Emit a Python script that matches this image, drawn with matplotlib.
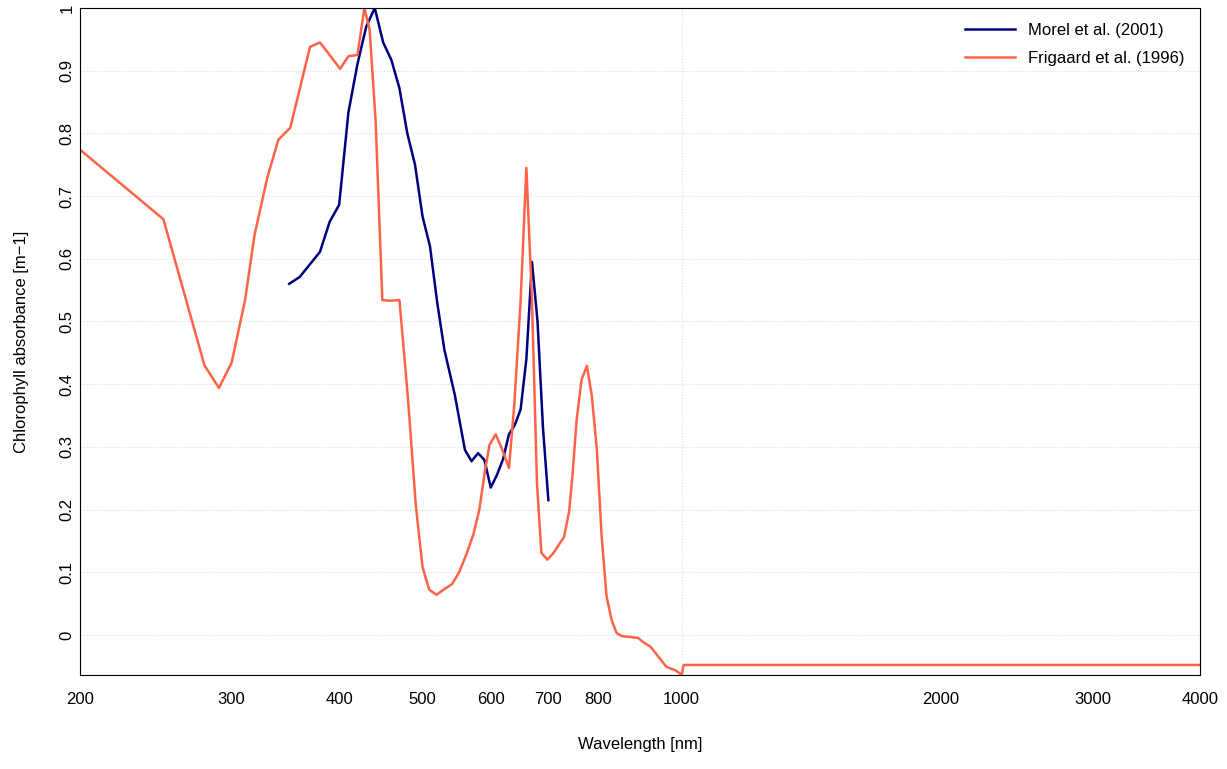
import matplotlib
matplotlib.use("Agg")
import matplotlib.pyplot as plt
from matplotlib.ticker import FixedLocator, NullLocator

fr_w = [200,250,279,290,300,311,319,330,340,351,370,380,390,401,410,420,428,434,441,449,458,470,481,491,500,509,519,530,541,551,562,573,582,591,598,608,619,630,639,650,660,670,679,687,698,710,720,730,740,747,755,765,776,786,797,807,818,829,840,852,867,890,901,920,936,960,985,1000,1005,1500,2000,3000,4000]
fr_a = [0.774,0.663,0.43,0.394,0.434,0.534,0.638,0.729,0.79,0.809,0.938,0.945,0.925,0.903,0.923,0.925,1.0,0.965,0.82,0.534,0.533,0.534,0.375,0.207,0.108,0.072,0.064,0.073,0.081,0.099,0.128,0.161,0.2,0.263,0.303,0.32,0.295,0.266,0.367,0.534,0.745,0.534,0.242,0.131,0.12,0.131,0.144,0.156,0.197,0.258,0.343,0.407,0.429,0.383,0.295,0.159,0.061,0.024,0.003,-0.002,-0.003,-0.005,-0.011,-0.019,-0.032,-0.051,-0.057,-0.064,-0.048,-0.048,-0.048,-0.048,-0.048]
mo_w = [350,360,380,390,400,410,420,430,440,450,460,470,480,490,500,510,520,530,545,560,570,580,590,600,610,620,630,640,650,660,670,680,690,700]
mo_a = [0.56,0.571,0.611,0.659,0.686,0.833,0.91,0.97,1.0,0.945,0.917,0.872,0.8,0.75,0.667,0.62,0.53,0.455,0.383,0.295,0.277,0.29,0.279,0.235,0.255,0.28,0.32,0.335,0.36,0.44,0.595,0.5,0.33,0.215]
xticks = [200,300,400,500,600,700,800,1000,2000,3000,4000]
yticks = [0,0.1,0.2,0.3,0.4,0.5,0.6,0.7,0.8,0.9,1]

plt.rcParams['font.family'] = ['Liberation Sans', 'DejaVu Sans']
fig = plt.figure(figsize=(12.27,7.69), dpi=100)
ax = fig.add_axes([80/1227, 1-675/769, 1120/1227, 667/769])
ax.set_xscale('log')
ax.set_xlim(200,4000)
ax.set_ylim(-0.064,1.0)
for y in yticks:
    ax.axhline(y, color='#dddddd', ls=':', lw=0.8, zorder=0)
ax.axvline(1000, color='#dddddd', ls=':', lw=0.8, zorder=0)
ax.plot(mo_w, mo_a, color='#000080', lw=1.8, label='Morel et al. (2001)')
ax.plot(fr_w, fr_a, color='#FF6347', lw=1.8, label='Frigaard et al. (1996)')
ax.xaxis.set_major_locator(FixedLocator(xticks))
ax.xaxis.set_minor_locator(NullLocator())
ax.set_xticklabels([str(t) for t in xticks], fontsize=12)
ax.set_yticks(yticks)
ax.set_yticklabels(['0']+[f'{v:g}' for v in yticks[1:]], fontsize=12, rotation=90, va='center')
ax.tick_params(axis='both', length=0)
ax.tick_params(axis='x', pad=12)
ax.tick_params(axis='y', pad=4)
ax.set_xlabel('Wavelength [nm]', fontsize=12, labelpad=22)
ax.set_ylabel('Chlorophyll absorbance [m−1]', fontsize=12, labelpad=22)
ax.legend(loc='upper right', frameon=False, fontsize=12, handlelength=3, handletextpad=0.8,
          labelspacing=0.75, borderaxespad=0.5)
fig.savefig('out.png', dpi=100)
